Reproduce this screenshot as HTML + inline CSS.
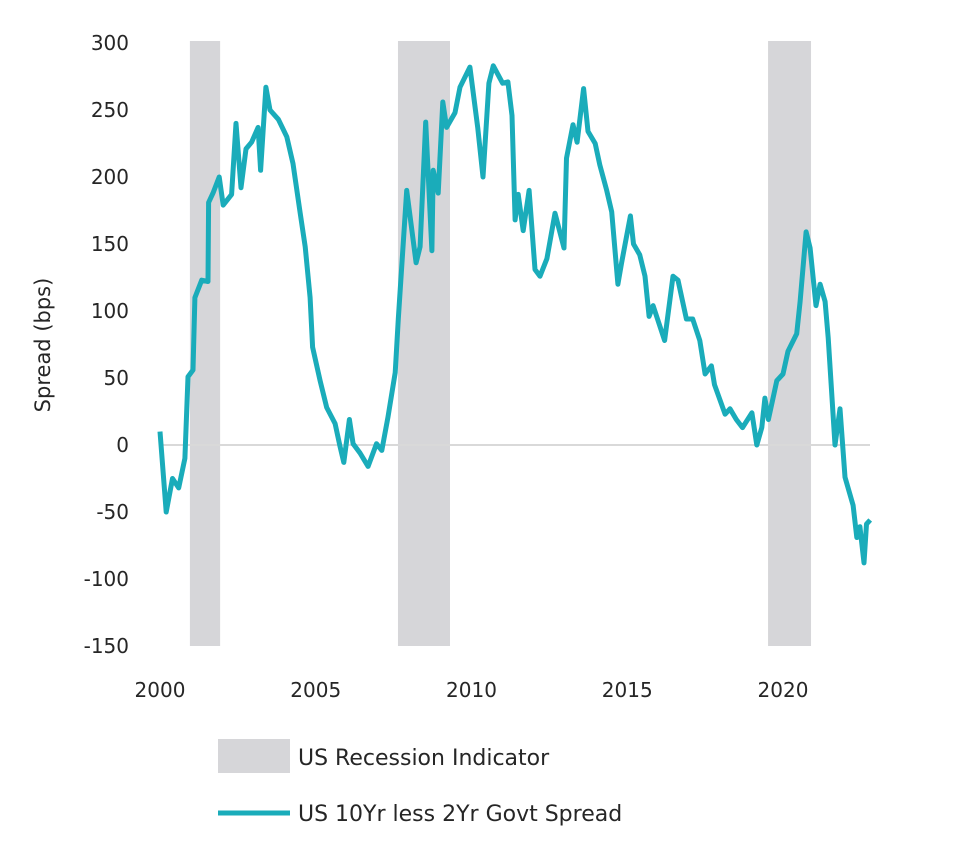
<!DOCTYPE html>
<html><head><meta charset="utf-8"><style>
body{margin:0;background:#fff;}
svg text{font-family:"DejaVu Sans","Liberation Sans",sans-serif;fill:#262626;}
</style></head><body>
<svg id="chart" width="960" height="852" viewBox="0 0 960 852" xmlns="http://www.w3.org/2000/svg">
<g id="bands"></g>
<line x1="160" x2="870" y1="445" y2="445" stroke="#d9d9d9" stroke-width="2"/>
<g id="yticks"></g>
<g id="xticks"></g>
<text transform="translate(50,345) rotate(-90)" text-anchor="middle" font-size="21">Spread (bps)</text>
<path id="line" fill="none" stroke="#1aacba" stroke-width="5" stroke-linejoin="round"/>
<g>
<rect x="218" y="739" width="72" height="34" fill="#d6d6d9"/>
<text x="298" y="765" font-size="22">US Recession Indicator</text>
<line x1="218" x2="290" y1="813" y2="813" stroke="#1aacba" stroke-width="5"/>
<text x="298" y="821" font-size="22">US 10Yr less 2Yr Govt Spread</text>
</g>
</svg>
<script>
const yTicks=[300,250,200,150,100,50,0,-50,-100,-150];
const xTicks=[2000,2005,2010,2015,2020];
const recStart=[2000.96,2007.64,2019.52];
const recEnd=[2001.93,2009.31,2020.9];
const years=[2000.0,2000.2,2000.4,2000.6,2000.8,2000.9,2001.06,2001.12,2001.34,2001.54,2001.56,2001.7,2001.9,2002.03,2002.3,2002.44,2002.6,2002.76,2002.94,2003.15,2003.23,2003.4,2003.53,2003.8,2004.07,2004.27,2004.5,2004.66,2004.82,2004.9,2005.14,2005.35,2005.62,2005.78,2005.9,2006.08,2006.2,2006.42,2006.68,2006.95,2007.12,2007.32,2007.55,2007.65,2007.92,2008.22,2008.35,2008.53,2008.73,2008.77,2008.93,2009.08,2009.2,2009.47,2009.63,2009.95,2010.2,2010.37,2010.56,2010.7,2011.0,2011.17,2011.3,2011.4,2011.5,2011.66,2011.85,2012.04,2012.2,2012.42,2012.68,2012.97,2013.05,2013.26,2013.39,2013.6,2013.74,2013.97,2014.12,2014.34,2014.5,2014.7,2014.82,2015.1,2015.2,2015.4,2015.57,2015.7,2015.83,2016.2,2016.47,2016.63,2016.9,2017.1,2017.33,2017.5,2017.7,2017.8,2018.14,2018.3,2018.5,2018.7,2019.0,2019.16,2019.32,2019.42,2019.53,2019.8,2020.0,2020.16,2020.44,2020.55,2020.74,2020.87,2021.06,2021.19,2021.35,2021.45,2021.67,2021.83,2021.99,2022.25,2022.37,2022.47,2022.6,2022.68,2022.8];
const spread=[10,-50,-25,-32,-10,51,56,110,123,122,181,188,200,179,187,240,192,221,226,237,205,267,250,243,230,210,173,148,110,73,48,28,16,-1,-13,19,1,-6,-16,1,-4,21,54,94,190,136,148,241,145,205,188,256,237,248,267,282,237,200,270,283,270,271,246,168,187,160,190,131,126,139,173,147,214,239,226,266,234,225,209,190,174,120,136,171,150,142,126,96,104,78,126,123,94,94,78,53,59,45,23,27,19,13,24,0,13,35,19,48,53,70,83,107,159,147,104,120,107,80,0,27,-24,-45,-69,-61,-88,-59,-56];
const X=y=>160+(y-2000)*31.15;
const Y=v=>445-v*1.34;
const NS="http://www.w3.org/2000/svg";
const bands=document.getElementById('bands');
recStart.forEach((s,i)=>{const r=document.createElementNS(NS,'rect');


r.setAttribute('x',X(s));r.setAttribute('width',X(recEnd[i])-X(s));r.setAttribute('y',41);r.setAttribute('height',605);r.setAttribute('fill','#d6d6d9');bands.appendChild(r);});
const yt=document.getElementById('yticks');
yTicks.forEach(v=>{const t=document.createElementNS(NS,'text');


t.setAttribute('x',129);t.setAttribute('y',Y(v)+7);t.setAttribute('text-anchor','end');t.setAttribute('font-size','20');t.textContent=v;yt.appendChild(t);});
const xt=document.getElementById('xticks');
xTicks.forEach(v=>{const t=document.createElementNS(NS,'text');


t.setAttribute('x',X(v));t.setAttribute('y',697);t.setAttribute('text-anchor','middle');t.setAttribute('font-size','20');t.textContent=v;xt.appendChild(t);});
document.getElementById('line').setAttribute('d',years.map((y,i)=>(i?'L':'M')+X(y).toFixed(1)+','+Y(spread[i]).toFixed(1)).join(''));
</script>
</body></html>
